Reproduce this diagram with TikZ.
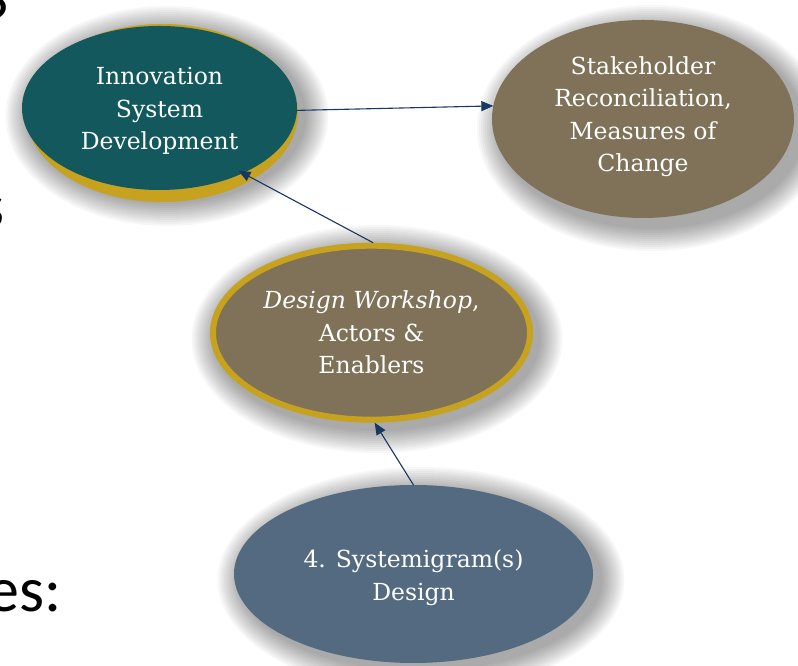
\documentclass[tikz,border=0pt]{standalone}
\usepackage{fontspec}
\setmainfont{DejaVu Serif}
\newfontfamily\slidefont{Carlito}
\usetikzlibrary{arrows.meta,shapes.geometric}
\definecolor{tealc}{RGB}{18,88,92}
\definecolor{brownc}{RGB}{127,114,88}
\definecolor{goldc}{RGB}{198,162,30}
\definecolor{slatec}{RGB}{84,106,128}
\definecolor{navyc}{RGB}{24,56,96}
\newcommand\mysoftshadow[4]{%
  \foreach \k in {0,...,11}{%
    \fill[black,opacity=0.032] (#1,#2) ellipse ({#3+24-2*\k} and {#4+24-2*\k});}}
\tikzset{
  bubble/.style={ellipse, inner sep=0pt, outer sep=0pt},
  lbl/.style={text=white, align=center, inner sep=0pt,
    font=\fontsize{23.5}{32.5}\selectfont},
  arr/.style={draw=navyc, line width=1.1pt, -{Triangle[length=12pt,width=10pt]}},
  frag/.style={inner sep=0pt, font=\slidefont\fontsize{64}{64}\selectfont}
}
\begin{document}
\begin{tikzpicture}[x=1pt,y=1pt]
\useasboundingbox (0,0) rectangle (798,666);
\clip (0,0) rectangle (798,666);
\fill[white] (0,0) rectangle (798,666);

% slide text fragments
\node[frag, anchor=base east] (fragq) at (10,624) {?};
\node[frag, anchor=base east] (frags) at (5,438) {s};
\node[frag, anchor=base east] (frages) at (62,54) {es:};

% shadows
\mysoftshadow{167}{550}{137.5}{86}
\mysoftshadow{652}{538}{151}{99}
\mysoftshadow{377}{327}{161.5}{90}
\mysoftshadow{421}{86}{179.5}{89}

% bubbles
\node[bubble, fill=goldc, minimum width=272, minimum height=178] (innogold) at (162,553) {};
\node[bubble, fill=tealc, minimum width=275, minimum height=164] (inno) at (159.5,558) {};
\node[lbl] (innoT) at (159.5,555) {Innovation\\System\\Development};

\node[bubble, fill=brownc, minimum width=302, minimum height=198] (stake) at (643,547) {};
\node[lbl] (stakeT) at (643,549.5) {Stakeholder\\Reconciliation,\\Measures of\\Change};

\node[bubble, fill=brownc, draw=goldc, line width=6pt, outer sep=3pt,
      minimum width=317, minimum height=174] (dw) at (371.5,333.3) {};
\node[lbl] (dwT) at (371.5,333.3) {\textit{Design Workshop},\\Actors \&\\Enablers};

\node[bubble, fill=slatec, minimum width=359, minimum height=178] (sys) at (413.5,92) {};
\node[lbl] (sysT) at (413.5,88.5) {4. Systemigram(s)\\Design};

% connectors
\draw[arr] (inno.-1.7) -- (stake.175.4);
\draw[arr, shorten >=-5pt] (dw.89) -- (inno.-38.3);
\draw[arr] (sys.90) -- (dw.-88.4);
\end{tikzpicture}
\end{document}
